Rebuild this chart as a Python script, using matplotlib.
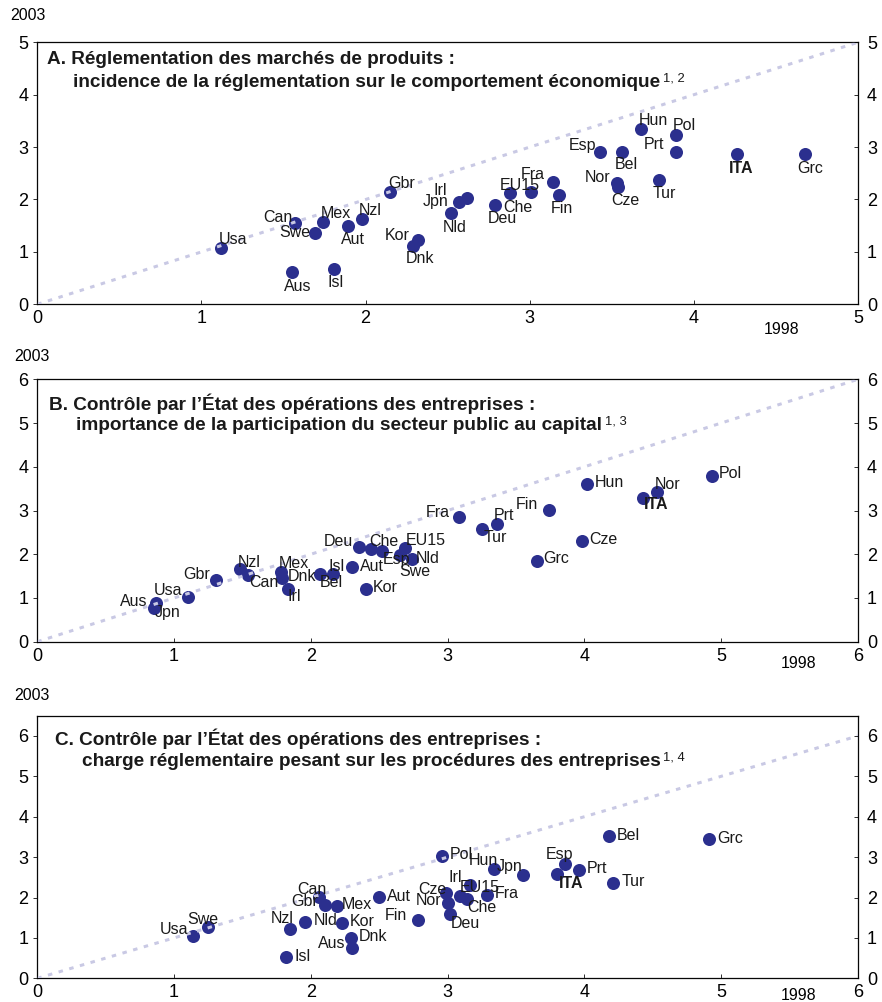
import matplotlib
matplotlib.use("Agg")
import matplotlib.pyplot as plt
from matplotlib.text import Annotation

plt.rcParams['font.family'] = ['Liberation Sans', 'DejaVu Sans']

W, H = 882, 1002
DOT = '#2b2f8e'
DIAG = '#c9c9e4'

# Panel A : réglementation des marchés de produits
countries_a = ['Usa', 'Can', 'Swe', 'Mex', 'Aut', 'Nzl', 'Gbr', 'Aus', 'Isl', 'Kor',
               'Dnk', 'Irl', 'Jpn', 'Nld', 'Deu', 'Che', 'EU15', 'Fra', 'Fin', 'Esp',
               'Bel', 'Nor', 'Cze', 'Hun', 'Pol', 'Prt', 'Tur', 'ITA', 'Grc']
x1998_a = [1.12, 1.57, 1.69, 1.74, 1.89, 1.98, 2.15, 1.55, 1.81, 2.32,
           2.29, 2.62, 2.57, 2.52, 2.79, 2.88, 3.01, 3.14, 3.18, 3.43,
           3.56, 3.53, 3.54, 3.68, 3.89, 3.89, 3.79, 4.26, 4.68]
y2003_a = [1.07, 1.55, 1.37, 1.57, 1.50, 1.63, 2.14, 0.61, 0.68, 1.22,
           1.12, 2.02, 1.95, 1.74, 1.90, 2.12, 2.14, 2.33, 2.09, 2.90,
           2.91, 2.31, 2.23, 3.34, 3.24, 2.91, 2.37, 2.86, 2.86]

# Panel B : participation du secteur public au capital
countries_b = ['Aus', 'Jpn', 'Usa', 'Gbr', 'Nzl', 'Can', 'Mex', 'Dnk', 'Irl', 'Bel',
               'Isl', 'Aut', 'Kor', 'Deu', 'Che', 'Swe', 'Esp', 'EU15', 'Nld', 'Fra',
               'Tur', 'Prt', 'Fin', 'Grc', 'Cze', 'Hun', 'ITA', 'Nor', 'Pol']
x1998_b = [0.87, 0.85, 1.10, 1.31, 1.48, 1.54, 1.78, 1.79, 1.83, 2.07,
           2.16, 2.30, 2.40, 2.35, 2.44, 2.52, 2.65, 2.69, 2.74, 3.08,
           3.25, 3.36, 3.74, 3.65, 3.98, 4.02, 4.43, 4.53, 4.93]
y2003_b = [0.88, 0.76, 1.02, 1.40, 1.66, 1.53, 1.60, 1.45, 1.20, 1.55,
           1.55, 1.70, 1.20, 2.16, 2.11, 2.08, 1.98, 2.14, 1.89, 2.85,
           2.57, 2.70, 3.02, 1.85, 2.30, 3.60, 3.29, 3.42, 3.78]

# Panel C : charge réglementaire sur les procédures des entreprises
countries_c = ['Usa', 'Swe', 'Isl', 'Nzl', 'Nld', 'Can', 'Gbr', 'Mex', 'Kor', 'Dnk',
               'Aus', 'Aut', 'Fin', 'Pol', 'Cze', 'Nor', 'Deu', 'EU15', 'Che', 'Irl',
               'Fra', 'Hun', 'Jpn', 'ITA', 'Esp', 'Prt', 'Tur', 'Bel', 'Grc']
x1998_c = [1.14, 1.25, 1.82, 1.85, 1.96, 2.06, 2.10, 2.19, 2.23, 2.29,
           2.30, 2.50, 2.78, 2.96, 2.99, 3.00, 3.02, 3.09, 3.14, 3.16,
           3.29, 3.34, 3.55, 3.80, 3.86, 3.96, 4.21, 4.18, 4.91]
y2003_c = [1.05, 1.26, 0.52, 1.23, 1.40, 2.01, 1.82, 1.78, 1.38, 1.00,
           0.75, 2.01, 1.44, 3.03, 2.12, 1.87, 1.60, 2.03, 1.97, 2.30,
           2.05, 2.71, 2.55, 2.57, 2.84, 2.67, 2.37, 3.52, 3.44]

# label offsets in pixels (dx, dy) from the dot
offs_a = {'Usa': (12, 9), 'Can': (-17, 6), 'Swe': (-20, 0), 'Mex': (13, 9), 'Aut': (5, -14),
          'Nzl': (8, 8), 'Gbr': (11, 9), 'Aus': (6, -14), 'Isl': (1, -14), 'Kor': (-21, 5),
          'Dnk': (7, -13), 'Irl': (-27, 8), 'Jpn': (-24, 1), 'Nld': (4, -14), 'Deu': (7, -14),
          'Che': (8, -14), 'EU15': (-12, 7), 'Fra': (-20, 8), 'Fin': (3, -14), 'Esp': (-18, 7),
          'Bel': (5, -13), 'Nor': (-19, 6), 'Cze': (7, -13), 'Hun': (12, 9), 'Pol': (9, 9),
          'Prt': (-22, 7), 'Tur': (5, -13), 'ITA': (5, -14), 'Grc': (5, -14)}
offs_b = {'Aus': (-23, 2), 'Jpn': (14, -4), 'Usa': (-20, 7), 'Gbr': (-20, 6), 'Nzl': (9, 7),
          'Can': (16, -8), 'Mex': (13, 8), 'Dnk': (20, 2), 'Irl': (7, -7), 'Bel': (11, -9),
          'Isl': (4, 7), 'Aut': (20, 1), 'Kor': (20, 2), 'Deu': (-20, 6), 'Che': (13, 8),
          'Swe': (33, -21), 'Esp': (-3, -4), 'EU15': (21, 8), 'Nld': (16, 1), 'Fra': (-21, 5),
          'Tur': (13, -8), 'Prt': (7, 8), 'Fin': (-22, 5), 'Grc': (20, 2), 'Cze': (22, 2),
          'Hun': (22, 2), 'ITA': (13, -7), 'Nor': (11, 8), 'Pol': (19, 3)}
offs_c = {'Usa': (-19, 6), 'Swe': (-5, 8), 'Isl': (16, 1), 'Nzl': (-8, 10), 'Nld': (20, 1),
          'Can': (-7, 8), 'Gbr': (-20, 3), 'Mex': (20, 2), 'Kor': (20, 1), 'Dnk': (22, 1),
          'Aus': (-20, 5), 'Aut': (20, 1), 'Fin': (-22, 5), 'Pol': (19, 1), 'Cze': (-14, 3),
          'Nor': (-19, 2), 'Deu': (15, -10), 'EU15': (20, 9), 'Che': (15, -9), 'Irl': (-14, 8),
          'Fra': (19, 2), 'Hun': (-11, 8), 'Jpn': (-13, 9), 'ITA': (14, -9), 'Esp': (-6, 9),
          'Prt': (18, 2), 'Tur': (20, 1), 'Bel': (19, 1), 'Grc': (21, 1)}


def fx(px):
    return px / W


def fy(py):
    return 1 - py / H


def panel(top, bottom, countries, xs, ys, offs, xmax, ymax, yticks):
    ax = fig.add_axes([fx(37.3), fy(bottom), fx(858) - fx(37.3), (bottom - top) / H])
    ax.scatter(xs, ys, s=170, color=DOT, linewidths=0, zorder=2)
    ax.axline((0, 0), slope=1, color=DIAG, lw=3, ls=(0, (1.5, 2.2)), zorder=3)
    for c, x, y in zip(countries, xs, ys):
        dx, dy = offs[c]
        ax.annotate(c, (x, y), xytext=(dx, dy), textcoords='offset points',
                    ha='center', va='center', fontsize=16, zorder=4,
                    fontweight='bold' if c == 'ITA' else 'normal', color='#1a1a1a')
    ax.set_xlim(0, xmax)
    ax.set_ylim(0, ymax)
    ax.set_xticks(range(0, xmax + 1))
    ax.set_yticks(yticks)
    ax.tick_params(axis='x', direction='in', length=4, pad=6, labelsize=18)
    ax.tick_params(axis='y', direction='out', length=4, pad=5, labelsize=18)
    for s in ax.spines.values():
        s.set_linewidth(1.3)
        s.set_color('#222222')
    ax2 = ax.twinx()
    ax2.set_ylim(0, ymax)
    ax2.set_yticks(yticks)
    ax2.tick_params(axis='y', direction='in', length=4, pad=9, labelsize=18)
    return ax


fig = plt.figure(figsize=(W / 72, H / 72), dpi=72)

panel(42.3, 304.3, countries_a, x1998_a, y2003_a, offs_a, 5, 5, range(0, 6))
panel(379.3, 641.7, countries_b, x1998_b, y2003_b, offs_b, 6, 6, range(0, 7))
panel(715.7, 978.3, countries_c, x1998_c, y2003_c, offs_c, 6, 6.5, range(0, 7))

titles = [
    ((46.7, 60), (72.7, 82.7),
     'A. Réglementation des marchés de produits :',
     'incidence de la réglementation sur le comportement économique', '1, 2'),
    ((49.3, 403.3), (76, 426),
     'B. Contrôle par l’État des opérations des entreprises :',
     'importance de la participation du secteur public au capital', '1, 3'),
    ((55, 738.3), (81.7, 761.7),
     'C. Contrôle par l’État des opérations des entreprises :',
     'charge réglementaire pesant sur les procédures des entreprises', '1, 4'),
]
for p1, p2, l1, l2, sup in titles:
    fig.text(fx(p1[0]), fy(p1[1]), l1, fontsize=19, fontweight='bold', va='center', color='#1a1a1a')
    t2 = fig.text(fx(p2[0]), fy(p2[1]), l2, fontsize=19, fontweight='bold', va='center', color='#1a1a1a')
    fig.add_artist(Annotation(sup, xy=(1, 1), xycoords=t2, xytext=(3, 2),
                              textcoords='offset points', va='top', ha='left',
                              fontsize=13, color='#1a1a1a'))

for xx, yy in ((27.7, 15.7), (32.3, 356.7), (32.3, 695)):
    fig.text(fx(xx), fy(yy), '2003', fontsize=16, ha='center', va='center')
for xx, yy in ((782, 329), (799, 663.3), (799, 996)):
    fig.text(fx(xx), fy(yy), '1998', fontsize=16, ha='center', va='center')

fig.savefig('out.png', dpi=72)
